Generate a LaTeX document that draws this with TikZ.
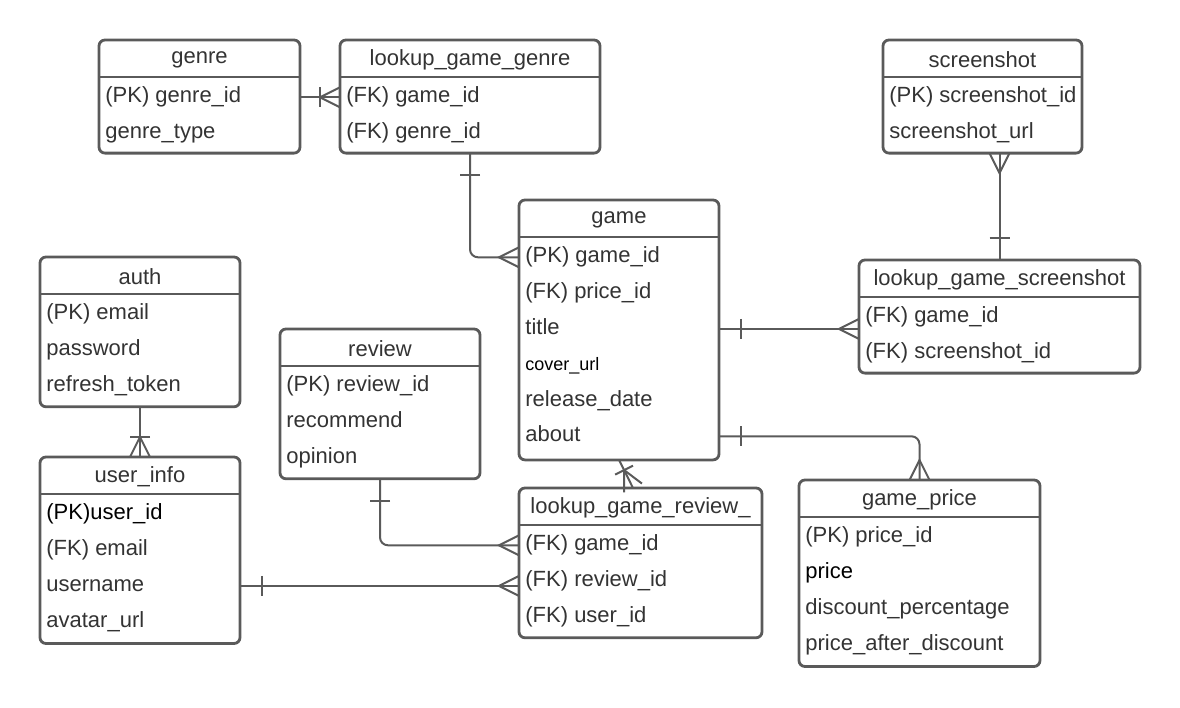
\documentclass[tikz,border=0pt]{standalone}
\usepackage{fontspec}
\setmainfont{Liberation Sans}
\usetikzlibrary{positioning}
\definecolor{erLine}{HTML}{5A5A5A}
\definecolor{erText}{HTML}{333333}
\tikzset{
  ebox/.style={draw=erLine, line width=1.4pt, rounded corners=3pt, anchor=north west, inner sep=0pt, outer sep=0pt},
  etitle/.style={font=\fontsize{11}{13}\selectfont, text=erText, inner sep=0pt},
  erow/.style={font=\fontsize{11}{13}\selectfont, text=erText, anchor=west, inner sep=0pt, text height=8pt, text depth=2.5pt},
  conn/.style={draw=erLine, line width=1pt, rounded corners=4pt},
  onpath/.style={sloped, allow upside down},
  one/.pic={\draw[conn, sharp corners] (22,-10) -- (22,10);},
  many/.pic={\draw[conn, sharp corners] (0,-10) -- (-20,0) -- (0,10);},
  onemany/.pic={\draw[conn, sharp corners] (0,-10) -- (-20,0) -- (0,10); \draw[conn, sharp corners] (-20,-10) -- (-20,10);},
}
% name, x, y, width, rows, title, row texts
\newcommand{\entity}[7]{%
  \node[ebox, minimum width=0.5pt*#4, minimum height=0.5pt*(36.7*(#5+1)+3)] (#1) at (#2,#3) {};
  \node[etitle] (#1-t) at (#2+#4/2,#3+20) {#6};
  \draw[erLine, line width=1.4pt] (#2,#3+37) -- (#2+#4,#3+37);
  \foreach \r [count=\i] in {#7} {
    \node[erow] (#1-\i) at (#2+6,#3+21.5+35.8*\i) {\r};
  }
}

\begin{document}
\begin{tikzpicture}[x=0.5pt, y=-0.5pt]
  \useasboundingbox (0,0) rectangle (1180,708);
  \entity{genre}{99}{40}{201}{2}{genre}{(PK) genre\_id, genre\_type}
  \entity{lgg}{340}{40}{260}{2}{lookup\_game\_genre}{(FK) game\_id, (FK) genre\_id}
  \entity{shot}{883}{40}{199}{2}{screenshot}{(PK) screenshot\_id, screenshot\_url}
  \entity{game}{519}{200}{200}{6}{game}{(PK) game\_id, (FK) price\_id, title, {\color{black}\fontsize{9}{11}\selectfont cover\_url}, release\_date, about}
  \entity{auth}{40}{257}{200}{3}{auth}{(PK) email, password, refresh\_token}
  \entity{review}{280}{329}{200}{3}{review}{(PK) review\_id, recommend, opinion}
  \entity{lgs}{859}{260}{281}{2}{lookup\_game\_screenshot}{(FK) game\_id, (FK) screenshot\_id}
  \entity{uinfo}{40}{457}{200}{4}{user\_info}{{\color{black}(PK)user\_id}, (FK) email, username, avatar\_url}
  \entity{lgr}{519}{488}{243}{3}{lookup\_game\_review\_}{(FK) game\_id, (FK) review\_id, (FK) user\_id}
  \entity{price}{799}{480}{241}{4}{game\_price}{(PK) price\_id, {\color{black}price}, discount\_percentage, price\_after\_discount}

  % relations
  \draw[conn] (genre-1 -| genre.east) -- (genre-1 -| lgg.west) pic[pos=1, onpath]{onemany};
  \draw[conn] (lgg.south) |- (game-1 -| game.west) pic[pos=0, onpath]{one} pic[pos=1, onpath]{many};
  \draw[conn] (lgs.north) -- (lgs.north |- shot.south) pic[pos=0, onpath]{one} pic[pos=1, onpath]{many};
  \draw[conn] (game-3 -| game.east) -- (game-3 -| lgs.west) pic[pos=0, onpath]{one} pic[pos=1, onpath]{many};
  \draw[conn] (game.south) -- ([xshift=7pt]game.south |- lgr.north) pic[pos=1, onpath]{onemany};
  \draw[conn] (game-6 -| game.east) -| (price.north) pic[pos=0, onpath]{one} pic[pos=1, onpath]{many};
  \draw[conn] (auth.south) -- (uinfo.north) pic[pos=1, onpath]{onemany};
  \draw[conn] (review.south) |- (lgr-1 -| lgr.west) pic[pos=0, onpath]{one} pic[pos=1, onpath]{many};
  \draw[conn] (uinfo-3 -| uinfo.east) -- (uinfo-3 -| lgr.west) pic[pos=0, onpath]{one} pic[pos=1, onpath]{many};
\end{tikzpicture}
\end{document}
